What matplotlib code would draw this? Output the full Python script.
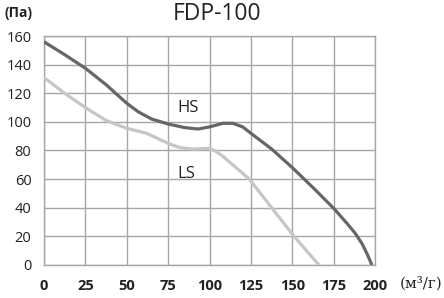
import matplotlib
matplotlib.use("Agg")
import matplotlib.pyplot as plt

# HS / LS characteristic curves (flow m3/h vs pressure Pa)
hs_x = [0, 12.5, 25, 37.5, 50, 57, 65, 75, 85, 93, 100, 108, 114, 120, 125,
        137.5, 150, 162.5, 175, 183, 188, 192, 195, 198]
hs_y = [156, 147, 137.5, 126, 113, 107, 102, 98.5, 96, 95, 96.5, 99, 99, 96.5, 92,
        81, 68, 54, 39.5, 29, 22, 15, 8, 0]
ls_x = [0, 12.5, 25, 37.5, 50, 62, 75, 82, 90, 99, 103, 108, 113, 118, 124,
        137.5, 151, 158.5, 166]
ls_y = [131, 120, 110, 101, 95.5, 92, 85, 82, 81, 81.5, 80, 76, 71, 66, 60,
        40, 20, 10, 0]

x_ticks = [0, 25, 50, 75, 100, 125, 150, 175, 200]
y_ticks = [0, 20, 40, 60, 80, 100, 120, 140, 160]

plt.rcParams["font.family"] = ["Open Sans", "DejaVu Sans"]

fig = plt.figure(figsize=(4.44, 2.98), dpi=100)
ax = fig.add_axes([0.099, 0.111, 0.746, 0.768])

ax.plot(hs_x, hs_y, color="#666666", lw=2.3, solid_capstyle="butt", zorder=3)
ax.plot(ls_x, ls_y, color="#c6c6c6", lw=2.3, solid_capstyle="butt", zorder=3)

ax.set_xlim(0, 200)
ax.set_ylim(0, 160)
ax.set_xticks(x_ticks)
ax.set_yticks(y_ticks)
ax.set_xticklabels([str(v) for v in x_ticks], fontsize=10.5, fontweight="bold")
ax.set_yticklabels([str(v) for v in y_ticks], fontsize=10.5)
ax.tick_params(length=0, pad=9, colors="#222222")
ax.tick_params(axis="x", pad=10)
ax.grid(True, color="#a6a6a6", lw=1)
for s in ax.spines.values():
    s.set_color("#a6a6a6")
    s.set_linewidth(1)

ax.text(87, 110, "HS", fontsize=12, ha="center", va="center", color="#222222")
ax.text(86, 63.5, "LS", fontsize=12, ha="center", va="center", color="#222222")

fig.text(0.49, 0.952, "FDP-100", fontsize=16.5, ha="center", va="center", color="#222222")
fig.text(0.01, 0.955, "(Па)", fontsize=10, fontweight="bold", ha="left", va="center", color="#222222")
fig.text(0.997, 0.05, "(м³/г)", fontsize=11, family="DejaVu Serif",
         ha="right", va="center", color="#222222")

fig.savefig("out.png", dpi=100)
